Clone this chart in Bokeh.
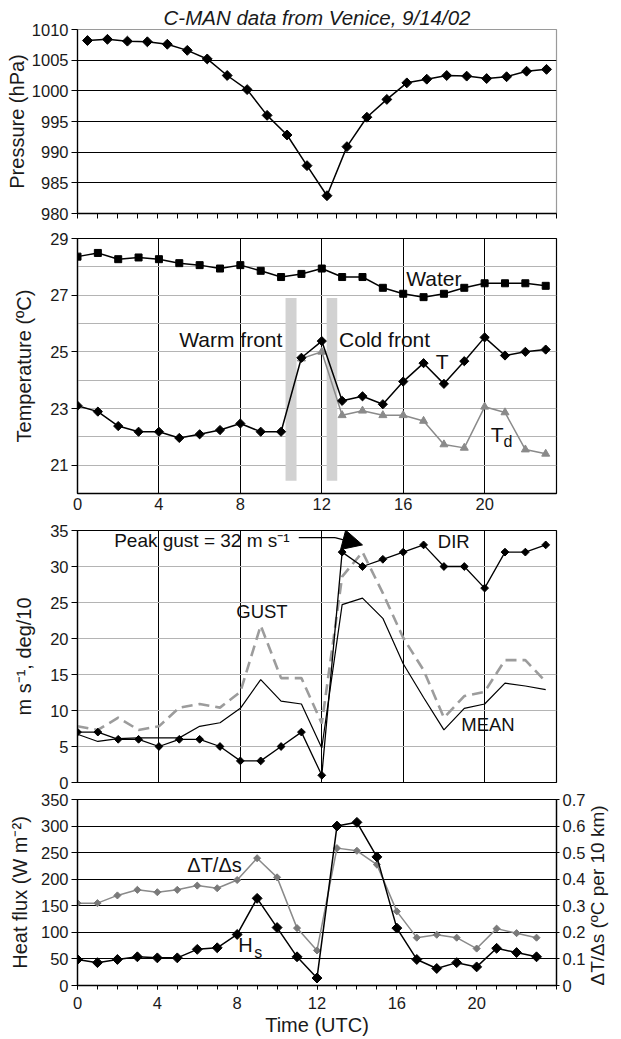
import math
from bokeh.plotting import figure
from bokeh.layouts import column
from bokeh.models import Range1d, LinearAxis, FixedTicker, Arrow, NormalHead
from bokeh.core.properties import value
from bokeh.embed import file_html
from bokeh.resources import INLINE

# ---------------- data ----------------
hours = list(range(24))
pressure_hpa = [1008.2, 1008.4, 1008.1, 1008.0, 1007.6, 1006.6, 1005.2, 1002.5,
                1000.2, 996.0, 992.8, 987.8, 982.9, 990.9, 995.7, 998.6,
                1001.3, 1001.9, 1002.5, 1002.4, 1002.0, 1002.3, 1003.2, 1003.5]
water_temp = [28.36, 28.49, 28.27, 28.33, 28.27, 28.13, 28.06, 27.94, 28.06, 27.86,
              27.64, 27.75, 27.94, 27.64, 27.64, 27.26, 27.05, 26.93, 27.05, 27.26,
              27.42, 27.42, 27.42, 27.33]
air_temp = [23.10, 22.89, 22.38, 22.18, 22.18, 21.96, 22.09, 22.24, 22.47, 22.18,
            22.18, 24.79, 25.38, 23.27, 23.43, 23.15, 23.95, 24.60, 23.87, 24.67,
            25.51, 24.87, 25.00, 25.08]
dew_hours = list(range(11, 24))
dew_point = [24.76, 25.00, 22.76, 22.92, 22.76, 22.76, 22.56, 21.73, 21.61, 23.06,
             22.86, 21.55, 21.40]
front_start = [10.22, 12.24]
front_end = [10.76, 12.76]
wind_dir = [7, 7, 6, 6, 5, 6, 6, 5, 3, 3, 5, 7, 1, 32, 30, 31, 32, 33, 30, 30, 27, 32, 32, 33]
wind_mean = [6.7, 5.7, 6.1, 6.2, 6.2, 6.2, 7.8, 8.3, 10.3, 14.3, 11.3, 10.9, 4.8, 24.7,
             25.6, 22.8, 16.5, 11.8, 7.3, 10.3, 10.9, 13.8, 13.4, 12.9]
wind_gust = [7.8, 7.3, 9.0, 7.3, 7.8, 10.4, 10.9, 10.4, 12.6, 21.8, 14.5, 14.5, 8.2, 28.6,
             32.0, 26.3, 20.1, 15.6, 9.0, 12.0, 12.6, 17.0, 17.0, 14.0]
heat_flux = [49, 43, 49, 54, 52, 52, 68, 71, 96, 164, 109, 54, 14, 300, 307, 242,
             108, 49, 32, 43, 35, 70, 62, 54]
dt_ds = [0.31, 0.31, 0.339, 0.36, 0.351, 0.36, 0.376, 0.366, 0.397, 0.479, 0.407,
         0.216, 0.132, 0.517, 0.507, 0.455, 0.279, 0.18, 0.191, 0.18, 0.139, 0.214,
         0.197, 0.18]

pressure_ticks = [980, 985, 990, 995, 1000, 1005, 1010]
temp_ticks = [21, 23, 25, 27, 29]
wind_ticks = [0, 5, 10, 15, 20, 25, 30, 35]
flux_ticks = [0, 50, 100, 150, 200, 250, 300, 350]
grad_ticks = [0, 0.1, 0.2, 0.3, 0.4, 0.5, 0.6, 0.7]
grad_labels = ["0", "0.1", "0.2", "0.3", "0.4", "0.5", "0.6", "0.7"]
time_ticks = [0, 4, 8, 12, 16, 20]

F = "Liberation Sans"
TICK = "16.5px"
ALAB = "20px"
GRAY = "#8a8a8a"
INK = "#1a1a1a"


def make_fig(height, xr, yr, bl, br, bt, bb):
    p = figure(width=621, height=height, x_range=xr, y_range=yr,
               output_backend="svg", toolbar_location=None,
               min_border_left=bl, min_border_right=br,
               min_border_top=bt, min_border_bottom=bb)
    p.background_fill_color = "white"
    p.border_fill_color = "white"
    p.outline_line_color = "black"
    p.outline_line_width = 1.2
    for ax in p.axis:
        ax.axis_line_color = "black"
        ax.axis_line_width = 1.3
        ax.major_label_text_font = F
        ax.major_label_text_font_size = TICK
        ax.major_label_text_color = INK
        ax.axis_label_text_font = F
        ax.axis_label_text_font_size = ALAB
        ax.axis_label_text_font_style = "normal"
        ax.axis_label_text_color = INK
        ax.minor_tick_line_color = None
        ax.major_tick_in = 0
    return p


def style_left(p, ticks, label, standoff):
    ax = p.yaxis[0]
    ax.ticker = FixedTicker(ticks=ticks)
    ax.major_tick_out = 6
    ax.major_label_standoff = 3
    ax.axis_label = label
    ax.axis_label_standoff = standoff


def diamonds(p, x, y, size, color="black", **kw):
    p.scatter(x, y, marker="square", angle=math.pi / 4, size=size,
              fill_color=color, line_color=color, **kw)


def txt(p, x, y, s, size, align="left", color="#111111", **kw):
    p.text(x=[x], y=[y], text=[s], text_font=value(F), text_font_size=value(size),
           text_align=align, text_baseline="middle", text_color=color, **kw)


# ---------------- pressure ----------------
p1 = make_fig(226, Range1d(-0.5, 23.5), Range1d(980, 1010), 75, 58, 29, 13)
p1.title.text = "C-MAN data from Venice, 9/14/02"
p1.title.text_font = F
p1.title.text_font_size = "20.5px"
p1.title.text_font_style = "italic"
p1.title.text_color = INK
p1.title.align = "center"
p1.title.standoff = 2
p1.outline_line_color = "#9a9a9a"
style_left(p1, pressure_ticks, "Pressure (hPa)", 1)
xa = p1.xaxis[0]
xa.ticker = FixedTicker(ticks=[h - 0.5 for h in hours] + [23.5])
xa.major_tick_out = 5
xa.major_label_text_font_size = "1px"
xa.major_label_text_color = None
xa.major_label_standoff = 0
p1.xgrid.visible = False
p1.ygrid.ticker = FixedTicker(ticks=pressure_ticks[1:-1])
p1.ygrid.grid_line_color = "black"
p1.ygrid.grid_line_width = 1
p1.line(hours, pressure_hpa, line_color="black", line_width=1.5)
diamonds(p1, hours, pressure_hpa, 7)

# ---------------- temperature ----------------
p2 = make_fig(292, Range1d(0, 23.53), Range1d(20, 29), 77, 58, 12, 25)
style_left(p2, temp_ticks, "Temperature (ºC)", 12)
xa = p2.xaxis[0]
xa.ticker = FixedTicker(ticks=time_ticks)
xa.major_tick_out = 0
xa.major_label_standoff = 4
p2.xgrid.ticker = FixedTicker(ticks=time_ticks[1:])
p2.xgrid.grid_line_color = "black"
p2.xgrid.grid_line_width = 1
p2.ygrid.ticker = FixedTicker(ticks=list(range(21, 29)))
p2.ygrid.grid_line_color = "#b4b4b4"
p2.ygrid.grid_line_width = 1
p2.quad(left=front_start, right=front_end, bottom=20.45, top=26.9,
        fill_color="#d2d2d2", line_color=None)
p2.line(hours, water_temp, line_color="black", line_width=1.5)
p2.scatter(hours, water_temp, marker="square", size=7, fill_color="black", line_color="black")
p2.line(dew_hours, dew_point, line_color=GRAY, line_width=1.5)
p2.scatter(dew_hours, dew_point, marker="triangle", size=8, fill_color=GRAY, line_color=GRAY)
p2.line(hours, air_temp, line_color="black", line_width=1.5)
diamonds(p2, hours, air_temp, 6.5)
txt(p2, 5.0, 25.45, "Warm front", "21px")
txt(p2, 12.85, 25.45, "Cold front", "21px")
txt(p2, 16.15, 27.6, "Water", "21px")
txt(p2, 17.6, 24.67, "T", "21px")
txt(p2, 20.3, 22.1, "T", "21px")
txt(p2, 20.93, 21.85, "d", "16px")

# ---------------- wind ----------------
p3 = make_fig(273, Range1d(0, 23.53), Range1d(0, 35), 77, 58, 12, 9)
style_left(p3, wind_ticks, "m s⁻¹, deg/10", 12)
p3.xaxis.visible = False
p3.xgrid.ticker = FixedTicker(ticks=time_ticks[1:])
p3.xgrid.grid_line_color = "black"
p3.xgrid.grid_line_width = 1
p3.ygrid.ticker = FixedTicker(ticks=wind_ticks[1:-1])
p3.ygrid.grid_line_color = "#b4b4b4"
p3.ygrid.grid_line_width = 1
p3.line(hours, wind_gust, line_color="#9c9c9c", line_width=2.6, line_dash="11 6")
p3.line(hours, wind_mean, line_color="black", line_width=1.2)
p3.line(hours, wind_dir, line_color="black", line_width=1.3)
diamonds(p3, hours, wind_dir, 5.5)
txt(p3, 1.8, 33.6, "Peak gust = 32 m s⁻¹", "19px")
p3.line([10.87, 12.65], [34.0, 34.0], line_color="black", line_width=1.3)
p3.add_layout(Arrow(end=NormalHead(size=20, fill_color="black", line_color="black"),
                    x_start=12.65, y_start=34.0, x_end=14.0, y_end=33.0,
                    line_color="black", line_width=1.3))
txt(p3, 7.8, 23.7, "GUST", "18.5px")
txt(p3, 18.85, 8.1, "MEAN", "18.5px")
txt(p3, 17.7, 33.5, "DIR", "18.5px")

# ---------------- heat flux ----------------
p4 = make_fig(248, Range1d(0, 24), Range1d(0, 350), 77, 58, 8, 54)
p4.extra_y_ranges = {"grad": Range1d(0, 0.7)}
style_left(p4, flux_ticks, "Heat flux (W m⁻²)", 7)
rax = LinearAxis(y_range_name="grad", ticker=FixedTicker(ticks=grad_ticks),
                 major_label_overrides={t: l for t, l in zip(grad_ticks, grad_labels)},
                 axis_label="ΔT/Δs (ºC per 10 km)")
p4.add_layout(rax, "right")
rax.axis_line_color = "black"
rax.axis_line_width = 1.3
rax.major_label_text_font = F
rax.major_label_text_font_size = TICK
rax.major_label_text_color = INK
rax.axis_label_text_font = F
rax.axis_label_text_font_size = "19px"
rax.axis_label_text_font_style = "normal"
rax.axis_label_text_color = INK
rax.minor_tick_line_color = None
rax.major_tick_in = 0
rax.major_tick_out = 3
rax.major_label_standoff = 3
rax.axis_label_standoff = 9
try:
    rax.axis_label_orientation = math.pi / 2
except Exception:
    pass
try:
    rax.axis_label_align = "start"
except Exception:
    pass
xa = p4.xaxis[0]
xa.ticker = FixedTicker(ticks=time_ticks, minor_ticks=list(range(25)))
xa.major_tick_out = 4
xa.minor_tick_out = 4
xa.minor_tick_in = 0
xa.minor_tick_line_color = "black"
xa.major_label_standoff = 7
xa.axis_label = "Time (UTC)"
xa.axis_label_standoff = 2
p4.xgrid.visible = False
p4.ygrid.ticker = FixedTicker(ticks=flux_ticks[1:-1])
p4.ygrid.grid_line_color = "black"
p4.ygrid.grid_line_width = 1
p4.line(hours, dt_ds, y_range_name="grad", line_color=GRAY, line_width=1.5)
diamonds(p4, hours, dt_ds, 5, color="#7a7a7a", y_range_name="grad")
p4.line(hours, heat_flux, line_color="black", line_width=1.5)
diamonds(p4, hours, heat_flux, 7)
txt(p4, 5.5, 226, "ΔT/Δs", "20px")
txt(p4, 8.05, 76, "H", "20px")
txt(p4, 8.85, 62, "s", "16px")

layout = column(p1, p2, p3, p4, spacing=0)
open("out.html", "w").write(file_html(layout, INLINE))
